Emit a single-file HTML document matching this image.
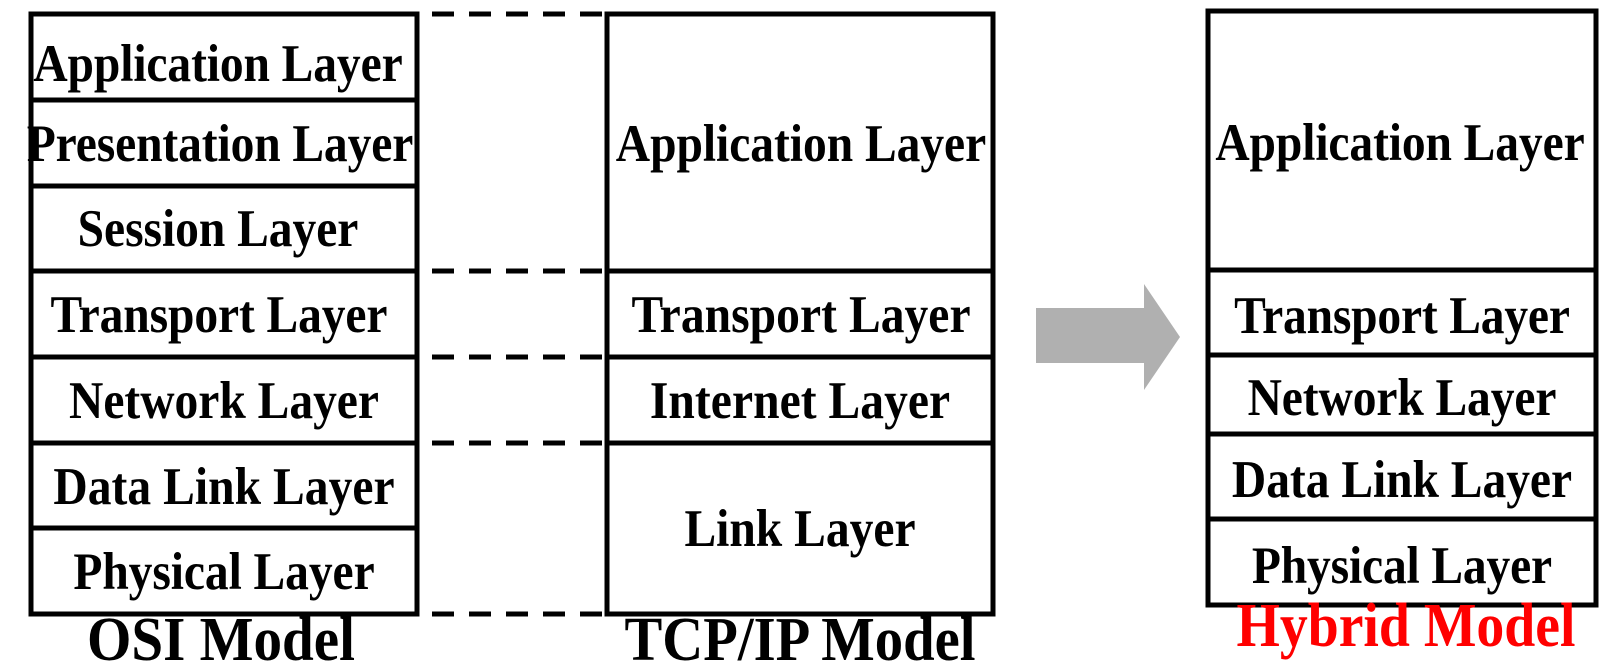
<!DOCTYPE html>
<html><head><meta charset="utf-8"><style>
html,body{margin:0;padding:0;background:#fff;}
svg{display:block;}
text{font-family:"Liberation Serif",serif;font-weight:bold;fill:#000;}
</style></head><body>
<svg width="1619" height="662" viewBox="0 0 1619 662" xmlns="http://www.w3.org/2000/svg">
<g fill="none" stroke="#000" stroke-width="5">
<rect x="31" y="14" width="386" height="600"/>
<line x1="31" y1="100" x2="417" y2="100"/>
<line x1="31" y1="186" x2="417" y2="186"/>
<line x1="31" y1="271" x2="417" y2="271"/>
<line x1="31" y1="357" x2="417" y2="357"/>
<line x1="31" y1="443" x2="417" y2="443"/>
<line x1="31" y1="528" x2="417" y2="528"/>
<rect x="607" y="14" width="386" height="600"/>
<line x1="607" y1="271" x2="993" y2="271"/>
<line x1="607" y1="357" x2="993" y2="357"/>
<line x1="607" y1="443" x2="993" y2="443"/>
<rect x="1208" y="11" width="388" height="594"/>
<line x1="1208" y1="270" x2="1596" y2="270"/>
<line x1="1208" y1="355" x2="1596" y2="355"/>
<line x1="1208" y1="434" x2="1596" y2="434"/>
<line x1="1208" y1="519" x2="1596" y2="519"/>
</g>
<g stroke="#000" stroke-width="5" stroke-dasharray="22 15">
<line x1="432" y1="14" x2="607" y2="14"/>
<line x1="432" y1="271" x2="607" y2="271"/>
<line x1="432" y1="357" x2="607" y2="357"/>
<line x1="432" y1="443" x2="607" y2="443"/>
<line x1="432" y1="614" x2="607" y2="614"/>
</g>
<polygon points="1036,308 1144,308 1144,284 1180,337 1144,390 1144,363 1036,363" fill="#b0b0b0"/>

<g font-size="44" text-anchor="middle">
<text transform="translate(218,81) scale(1.08,1.2)" textLength="342" lengthAdjust="spacing">Application Layer</text>
<text transform="translate(220,161) scale(1.08,1.2)" textLength="358" lengthAdjust="spacing">Presentation Layer</text>
<text transform="translate(218,246) scale(1.08,1.2)" textLength="260" lengthAdjust="spacing">Session Layer</text>
<text transform="translate(219,332) scale(1.08,1.2)" textLength="312" lengthAdjust="spacing">Transport Layer</text>
<text transform="translate(224,418) scale(1.08,1.2)" textLength="287" lengthAdjust="spacing">Network Layer</text>
<text transform="translate(224,504) scale(1.08,1.2)" textLength="316" lengthAdjust="spacing">Data Link Layer</text>
<text transform="translate(224,589) scale(1.08,1.2)" textLength="279" lengthAdjust="spacing">Physical Layer</text>

<text transform="translate(801,161) scale(1.08,1.2)" textLength="343" lengthAdjust="spacing">Application Layer</text>
<text transform="translate(801,332) scale(1.08,1.2)" textLength="314" lengthAdjust="spacing">Transport Layer</text>
<text transform="translate(800,418) scale(1.08,1.2)" textLength="278" lengthAdjust="spacing">Internet Layer</text>
<text transform="translate(800,546) scale(1.08,1.2)" textLength="214" lengthAdjust="spacing">Link Layer</text>

<text transform="translate(1400,160) scale(1.08,1.2)" textLength="342" lengthAdjust="spacing">Application Layer</text>
<text transform="translate(1402,333) scale(1.08,1.2)" textLength="311" lengthAdjust="spacing">Transport Layer</text>
<text transform="translate(1402,415) scale(1.08,1.2)" textLength="286" lengthAdjust="spacing">Network Layer</text>
<text transform="translate(1402,497) scale(1.08,1.2)" textLength="315" lengthAdjust="spacing">Data Link Layer</text>
<text transform="translate(1402,583) scale(1.08,1.2)" textLength="278" lengthAdjust="spacing">Physical Layer</text>
</g>
<g font-size="58" text-anchor="middle">
<text transform="translate(221,660) scale(1,1.08)" textLength="268" lengthAdjust="spacingAndGlyphs">OSI Model</text>
<text transform="translate(800,660) scale(1,1.08)" textLength="351" lengthAdjust="spacingAndGlyphs">TCP/IP Model</text>
<text transform="translate(1406,646) scale(1,1.08)" textLength="339" lengthAdjust="spacingAndGlyphs" style="fill:#ff0000">Hybrid Model</text>
</g>
</svg>
</body></html>
